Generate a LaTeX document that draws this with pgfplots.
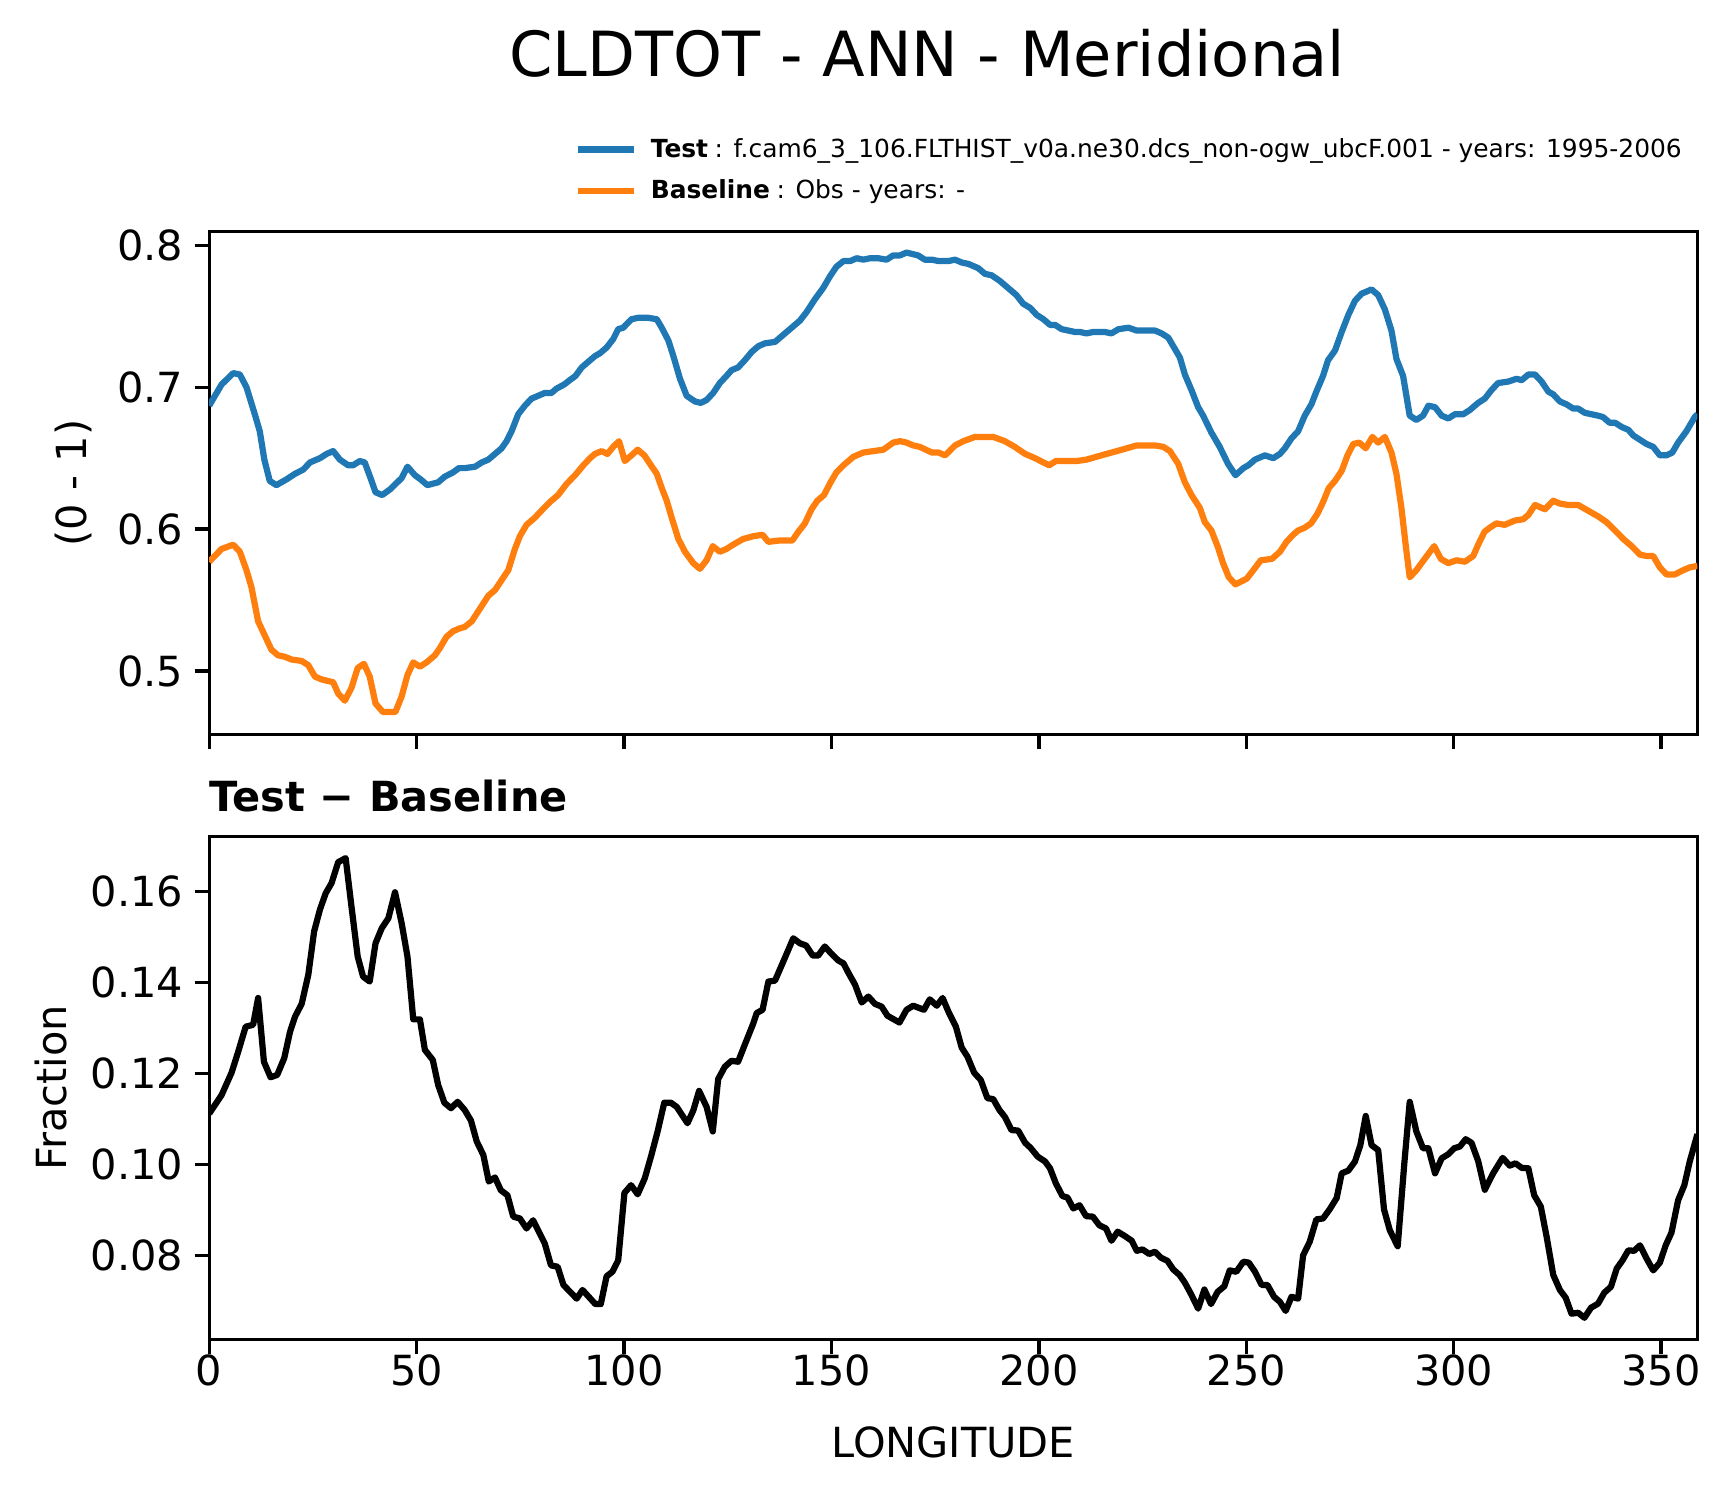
\documentclass[border=0pt]{standalone}
\usepackage{fontspec}
\setmainfont{DejaVu Sans}
\usepackage{pgfplots}
\pgfplotsset{compat=1.18}
\definecolor{tabblue}{HTML}{1F77B4}
\definecolor{taborange}{HTML}{FF7F0E}

\pgfplotsset{
  cldstyle/.style={
    scale only axis, width=358.6pt, height=121.3pt,
    xmin=0, xmax=358.75,
    axis line style={line width=0.8pt, black},
    tick align=outside, xtick pos=bottom, ytick pos=left,
    major tick length=3.5pt,
    every tick/.style={line width=0.8pt, black},
    minor tick num=0,
    scaled x ticks=false, scaled y ticks=false,
    tick label style={font=\fontsize{10}{12}\selectfont, inner sep=0pt},
    yticklabel style={xshift=-2.6pt},
    xtick={0,50,100,150,200,250,300,350},
    label style={font=\fontsize{10}{12}\selectfont, inner sep=0pt},
    every axis title shift=0pt,
    every axis plot/.append style={line width=1.5pt, line join=round},
  }
}

\begin{document}
\begin{tikzpicture}
\useasboundingbox (0,0) rectangle (417.1pt,360.5pt);
\node[anchor=base, inner sep=0pt, font=\fontsize{15}{18}\selectfont] at (223.4pt,342.0pt) {CLDTOT - ANN - Meridional};

% top panel: test and baseline
\begin{axis}[cldstyle,
  at={(50.4pt,183.46pt)}, anchor=south west,
  ymin=0.455, ymax=0.810,
  ytick={0.5,0.6,0.7,0.8}, yticklabels={0.5,0.6,0.7,0.8},
  xticklabels={},
  ylabel={(0 - 1)},
  ylabel style={at={(axis description cs:-0.0912,0.5)}, anchor=center},
  legend style={draw=none, fill=none, inner sep=0pt, outer sep=0pt,
    at={(0.246,1.183)}, anchor=north west,
    font=\fontsize{6}{7.2}\selectfont,
    row sep=3.9pt, column sep=3.2pt,
    cells={anchor=base west},
    nodes={inner sep=0pt, text height=4.5pt, text depth=1.5pt}},
  legend image code/.code={\draw[#1] (0pt,2pt) -- (13.5pt,2pt);},
]
\addplot[tabblue] coordinates {
(0,0.687) (3.0,0.702) (5.8,0.710) (7.4,0.709) (9.0,0.700) (11.0,0.681) (12.2,0.669) (13.3,0.649) (14.6,0.634) (16.2,0.631) (18.6,0.635) (20.7,0.639) (22.7,0.642) (24.3,0.647) (26.7,0.650) (28.3,0.653) (29.9,0.655) (31.5,0.649) (33.5,0.645) (34.7,0.645) (36.3,0.648) (37.5,0.647) (38.9,0.636) (40.1,0.626) (41.7,0.624) (43.6,0.628) (46.4,0.636) (47.8,0.644) (49.6,0.638) (51.0,0.635) (52.6,0.631) (55.2,0.633) (56.8,0.637) (58.8,0.640) (60.2,0.643) (61.6,0.643) (64.1,0.644) (65.7,0.647) (67.3,0.649) (68.9,0.653) (70.5,0.657) (71.7,0.662) (72.9,0.669) (74.5,0.681) (76.1,0.687) (77.7,0.692) (79.3,0.694) (80.9,0.696) (82.5,0.696) (83.7,0.699) (85.6,0.702) (86.9,0.705) (88.3,0.708) (89.8,0.714) (91.4,0.718) (93.0,0.722) (94.2,0.724) (95.8,0.728) (97.4,0.734) (98.6,0.741) (99.8,0.742) (101.8,0.748) (103.4,0.749) (105.8,0.749) (107.9,0.748) (109.1,0.742) (110.7,0.733) (111.9,0.722) (113.5,0.706) (115.1,0.694) (117.1,0.690) (118.5,0.689) (119.9,0.691) (121.5,0.696) (123.1,0.703) (124.7,0.708) (125.9,0.712) (127.5,0.714) (129.1,0.719) (130.8,0.725) (132.4,0.729) (134.0,0.731) (136.4,0.732) (138.4,0.737) (140.4,0.742) (142.4,0.747) (144.0,0.753) (146.0,0.762) (148.0,0.770) (149.6,0.778) (151.2,0.785) (152.9,0.789) (154.5,0.789) (156.1,0.791) (157.7,0.790) (159.3,0.791) (161.3,0.791) (163.3,0.790) (164.9,0.793) (166.5,0.793) (168.1,0.795) (170.9,0.793) (172.5,0.790) (174.2,0.790) (175.8,0.789) (178.2,0.789) (179.8,0.790) (181.4,0.788) (183.0,0.787) (185.4,0.784) (187.0,0.780) (188.6,0.779) (190.6,0.775) (192.6,0.770) (194.6,0.765) (196.2,0.759) (197.9,0.756) (199.5,0.751) (201.1,0.748) (202.7,0.744) (203.9,0.744) (205.5,0.741) (207.1,0.740) (208.7,0.739) (209.9,0.739) (211.5,0.738) (213.1,0.739) (215.9,0.739) (217.5,0.738) (219.2,0.741) (221.6,0.742) (223.6,0.740) (225.2,0.740) (226.8,0.740) (228.0,0.740) (229.6,0.738) (231.2,0.735) (232.4,0.729) (234.0,0.721) (235.2,0.709) (236.8,0.698) (238.4,0.686) (239.6,0.680) (241.6,0.668) (243.6,0.658) (245.6,0.646) (247.4,0.638) (249.3,0.643) (250.5,0.645) (252.1,0.649) (254.5,0.652) (256.5,0.650) (258.1,0.653) (259.3,0.657) (260.9,0.664) (262.5,0.669) (264.1,0.680) (265.7,0.688) (266.9,0.697) (268.5,0.708) (269.7,0.719) (271.4,0.726) (273.0,0.739) (274.6,0.751) (276.2,0.761) (277.8,0.766) (280.2,0.769) (281.8,0.765) (283.4,0.755) (285.0,0.740) (286.2,0.720) (287.8,0.708) (289.4,0.680) (291.0,0.677) (292.6,0.680) (293.9,0.687) (295.5,0.686) (297.1,0.680) (298.7,0.678) (300.3,0.681) (302.3,0.681) (303.9,0.684) (305.9,0.689) (307.5,0.692) (309.1,0.698) (310.7,0.703) (313.1,0.704) (315.2,0.706) (316.4,0.705) (318.0,0.709) (319.6,0.709) (321.2,0.704) (322.8,0.697) (324.0,0.695) (325.6,0.690) (327.2,0.688) (328.8,0.685) (330.0,0.685) (331.6,0.682) (333.2,0.681) (334.8,0.680) (336.0,0.679) (337.6,0.675) (338.9,0.675) (340.5,0.672) (342.1,0.670) (343.3,0.666) (344.9,0.663) (346.5,0.660) (348.1,0.658) (349.7,0.652) (351.3,0.652) (352.7,0.654) (354.1,0.661) (356.1,0.669) (358.1,0.679) (358.75,0.681)
};
\addlegendentry{\textbf{Test}\hspace{1.6pt}: f.cam6\_3\_106.FLTHIST\_v0a.ne30.dcs\_non-ogw\_ubcF.001 - years: 1995-2006}
\addplot[taborange] coordinates {
(0,0.577) (3.0,0.586) (5.8,0.589) (7.4,0.584) (9.0,0.571) (10.2,0.559) (11.8,0.535) (13.4,0.525) (15.0,0.515) (16.6,0.511) (18.2,0.510) (19.9,0.508) (22.3,0.507) (23.9,0.504) (25.5,0.496) (27.1,0.494) (29.9,0.492) (31.1,0.484) (32.7,0.479) (34.3,0.488) (35.8,0.502) (37.3,0.505) (38.7,0.496) (40.1,0.477) (41.9,0.471) (43.6,0.471) (44.9,0.471) (46.4,0.482) (47.8,0.497) (49.2,0.506) (50.8,0.503) (52.4,0.506) (54.4,0.511) (55.6,0.516) (57.2,0.524) (58.8,0.528) (60.4,0.530) (61.6,0.531) (63.3,0.535) (65.3,0.544) (67.3,0.553) (68.9,0.557) (70.5,0.564) (72.1,0.571) (73.7,0.586) (74.9,0.595) (76.5,0.603) (78.5,0.608) (80.1,0.613) (82.1,0.619) (84.1,0.624) (86.2,0.632) (88.2,0.638) (90.2,0.645) (91.8,0.650) (93.0,0.653) (94.6,0.655) (96.0,0.653) (97.4,0.658) (98.8,0.662) (100.2,0.648) (101.8,0.652) (103.3,0.656) (104.9,0.652) (106.5,0.645) (107.9,0.639) (109.1,0.629) (110.3,0.620) (111.5,0.608) (113.1,0.593) (114.7,0.584) (116.7,0.576) (118.3,0.572) (119.9,0.578) (121.4,0.588) (123.1,0.584) (124.7,0.586) (126.3,0.589) (128.7,0.593) (131.2,0.595) (133.4,0.596) (134.8,0.591) (137.6,0.592) (140.6,0.592) (142.0,0.598) (143.6,0.604) (145.2,0.614) (146.6,0.620) (148.2,0.624) (149.8,0.633) (151.2,0.640) (152.9,0.645) (155.3,0.651) (157.7,0.654) (160.1,0.655) (162.5,0.656) (164.9,0.661) (166.5,0.662) (168.1,0.661) (169.7,0.659) (171.3,0.658) (174.2,0.654) (175.8,0.654) (177.4,0.652) (179.8,0.659) (181.8,0.662) (184.6,0.665) (186.6,0.665) (189.0,0.665) (191.8,0.662) (194.2,0.658) (196.7,0.653) (199.1,0.650) (201.1,0.647) (202.5,0.645) (204.1,0.648) (206.3,0.648) (209.1,0.648) (211.5,0.649) (213.9,0.651) (216.3,0.653) (218.8,0.655) (221.2,0.657) (223.6,0.659) (226.0,0.659) (228.0,0.659) (230.0,0.658) (231.6,0.655) (233.6,0.646) (235.2,0.633) (236.8,0.624) (238.8,0.615) (240.0,0.605) (241.6,0.599) (243.2,0.587) (244.4,0.576) (245.8,0.566) (247.4,0.561) (250.1,0.565) (251.7,0.571) (253.5,0.578) (256.2,0.579) (258.1,0.584) (259.7,0.591) (261.3,0.596) (262.5,0.599) (264.1,0.601) (265.6,0.604) (267.2,0.611) (268.5,0.619) (269.9,0.629) (271.4,0.634) (273.0,0.641) (274.4,0.652) (275.8,0.660) (277.2,0.661) (278.8,0.657) (280.4,0.665) (281.8,0.661) (283.4,0.665) (285.0,0.654) (286.2,0.639) (287.4,0.615) (288.5,0.587) (289.4,0.566) (291.0,0.571) (293.0,0.579) (295.3,0.588) (296.9,0.579) (298.7,0.576) (300.7,0.578) (302.7,0.577) (304.7,0.581) (305.9,0.589) (307.4,0.598) (308.7,0.601) (310.3,0.604) (312.3,0.603) (314.7,0.606) (316.8,0.607) (318.0,0.610) (319.6,0.617) (322.0,0.614) (324.0,0.620) (325.6,0.618) (327.6,0.617) (330.0,0.617) (332.4,0.613) (334.8,0.609) (336.8,0.605) (338.9,0.599) (340.9,0.593) (342.9,0.588) (344.9,0.582) (346.5,0.581) (348.1,0.581) (349.7,0.573) (351.3,0.568) (353.3,0.568) (355.3,0.571) (356.9,0.573) (358.75,0.574)
};
\addlegendentry{\textbf{Baseline}\hspace{1.6pt}: Obs - years: -}
\end{axis}

% bottom panel: difference
\begin{axis}[cldstyle,
  at={(50.4pt,37.7pt)}, anchor=south west,
  ymin=0.0616, ymax=0.1721,
  ytick={0.08,0.10,0.12,0.14,0.16}, yticklabels={0.08,0.10,0.12,0.14,0.16},
  xticklabels={0,50,100,150,200,250,300,350},
  xlabel={LONGITUDE},
  xlabel style={at={(axis description cs:0.5,0)}, anchor=base, yshift=-28.3pt},
  ylabel={Fraction},
  ylabel style={at={(axis description cs:-0.1065,0.5)}, anchor=center},
  title={\textbf{Test − Baseline}},
  title style={at={(axis description cs:0,1)}, anchor=base west, inner sep=0pt, yshift=5.9pt, font=\fontsize{10}{12}\selectfont},
]
\addplot[black] coordinates {
(0,0.1112) (3.0,0.1153) (5.4,0.1202) (7.0,0.1248) (8.8,0.1303) (10.6,0.1307) (11.8,0.1366) (13.2,0.1226) (14.8,0.1192) (16.4,0.1197) (18.1,0.1234) (19.5,0.1292) (20.7,0.1325) (22.3,0.1353) (23.9,0.1417) (25.3,0.1512) (26.7,0.1560) (28.1,0.1596) (29.5,0.1618) (31.1,0.1664) (32.9,0.1673) (34.3,0.1567) (35.8,0.1457) (37.1,0.1413) (38.7,0.1402) (40.1,0.1486) (41.6,0.1519) (43.2,0.1541) (44.8,0.1598) (46.4,0.1530) (47.8,0.1457) (49.2,0.1319) (50.8,0.1319) (52.0,0.1252) (53.9,0.1230) (55.2,0.1175) (56.7,0.1136) (58.3,0.1124) (59.9,0.1138) (61.6,0.1120) (63.1,0.1097) (64.5,0.1051) (66.1,0.1021) (67.4,0.0963) (68.9,0.0972) (70.3,0.0944) (71.9,0.0933) (73.3,0.0886) (74.9,0.0882) (76.5,0.0860) (78.1,0.0878) (79.3,0.0856) (80.9,0.0827) (82.4,0.0779) (84.0,0.0776) (85.4,0.0736) (87.0,0.0721) (88.6,0.0706) (90.0,0.0725) (91.4,0.0711) (93.1,0.0694) (94.4,0.0694) (95.8,0.0755) (97.2,0.0765) (98.6,0.0790) (100.1,0.0938) (101.7,0.0955) (103.3,0.0935) (105.0,0.0970) (106.6,0.1021) (108.1,0.1073) (109.7,0.1136) (111.3,0.1136) (112.7,0.1127) (114.0,0.1109) (115.3,0.1091) (116.7,0.1119) (118.1,0.1162) (119.9,0.1127) (121.4,0.1073) (122.7,0.1188) (124.3,0.1215) (125.9,0.1228) (127.5,0.1226) (129.1,0.1263) (131.2,0.1311) (132.0,0.1333) (133.4,0.1340) (134.8,0.1402) (136.4,0.1404) (138.4,0.1446) (140.8,0.1497) (142.4,0.1486) (143.9,0.1481) (145.5,0.1459) (146.8,0.1459) (148.4,0.1479) (150.0,0.1463) (151.7,0.1448) (152.9,0.1442) (154.1,0.1421) (155.7,0.1395) (157.3,0.1356) (158.9,0.1369) (160.5,0.1353) (162.1,0.1347) (163.5,0.1327) (166.4,0.1312) (168.1,0.1340) (169.7,0.1349) (172.3,0.1340) (173.7,0.1363) (175.4,0.1349) (176.8,0.1366) (178.2,0.1336) (180.0,0.1303) (181.4,0.1257) (182.8,0.1237) (184.4,0.1202) (186.0,0.1186) (187.6,0.1146) (189.0,0.1144) (190.5,0.1120) (191.8,0.1105) (193.4,0.1076) (195.0,0.1075) (196.7,0.1048) (198.0,0.1037) (199.7,0.1018) (201.5,0.1007) (202.7,0.0992) (204.1,0.0959) (205.7,0.0931) (206.9,0.0928) (208.3,0.0904) (209.8,0.0911) (211.4,0.0887) (213.0,0.0886) (214.6,0.0867) (216.2,0.0860) (217.5,0.0833) (219.0,0.0853) (220.8,0.0843) (222.4,0.0833) (223.6,0.0811) (225.0,0.0814) (226.6,0.0804) (228.0,0.0809) (229.4,0.0796) (231.0,0.0789) (232.4,0.0770) (233.9,0.0758) (235.2,0.0741) (236.8,0.0714) (238.4,0.0684) (239.9,0.0726) (241.5,0.0694) (243.1,0.0721) (244.7,0.0733) (246.0,0.0768) (247.6,0.0765) (249.3,0.0787) (250.6,0.0785) (252.1,0.0765) (253.7,0.0736) (255.1,0.0736) (256.7,0.0710) (258.1,0.0699) (259.5,0.0679) (260.9,0.0710) (262.5,0.0706) (263.7,0.0801) (265.3,0.0831) (266.9,0.0880) (268.5,0.0882) (270.1,0.0902) (271.8,0.0927) (273.0,0.0981) (274.6,0.0987) (276.2,0.1007) (277.5,0.1043) (278.8,0.1107) (280.2,0.1043) (281.8,0.1032) (283.2,0.0902) (284.6,0.0856) (286.5,0.0821) (288.1,0.1003) (289.4,0.1138) (291.0,0.1073) (292.6,0.1036) (293.9,0.1036) (295.5,0.0981) (297.1,0.1014) (298.7,0.1023) (300.1,0.1036) (301.5,0.1040) (302.9,0.1056) (304.3,0.1048) (305.9,0.1008) (307.5,0.0945) (309.5,0.0981) (311.8,0.1015) (313.5,0.0998) (314.9,0.1003) (316.4,0.0993) (318.0,0.0992) (319.4,0.0933) (321.0,0.0908) (322.4,0.0842) (324.0,0.0758) (325.6,0.0725) (327.0,0.0708) (328.4,0.0673) (330.0,0.0675) (331.5,0.0664) (333.1,0.0686) (334.8,0.0695) (336.3,0.0719) (337.9,0.0732) (339.3,0.0772) (340.7,0.0790) (342.1,0.0812) (343.5,0.0811) (344.9,0.0823) (346.5,0.0794) (348.1,0.0768) (349.7,0.0785) (351.1,0.0823) (352.5,0.0851) (354.1,0.0922) (355.6,0.0955) (356.9,0.1007) (358.75,0.1067)
};
\end{axis}
\end{tikzpicture}
\end{document}
